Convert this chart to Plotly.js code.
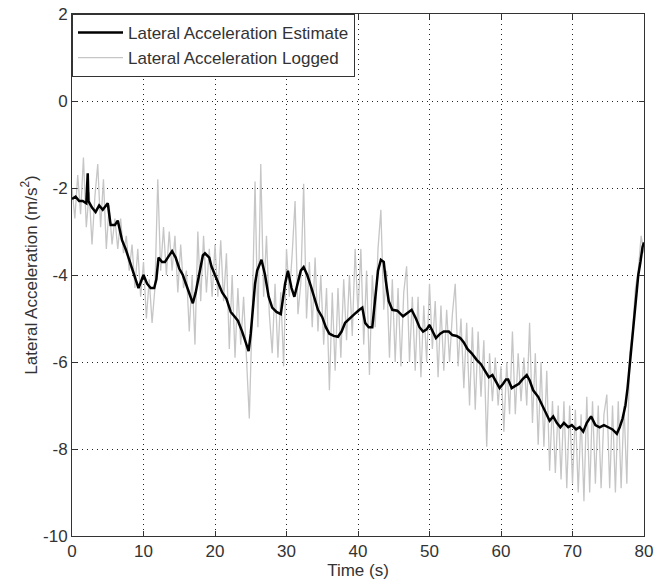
<!DOCTYPE html>
<html>
<head>
<meta charset="utf-8">
<script src="https://cdn.plot.ly/plotly-3.0.1.min.js"></script>
<style>html,body{margin:0;padding:0;background:#fff;}#chart{width:656px;height:584px;}</style>
</head>
<body>
<div id="chart"></div>
<script>
// Estimate series (time in s, lateral acceleration in m/s^2)
var estTime = [0,0.5,1,1.5,2.0,2.2,2.3,2.8,3.3,3.8,4.3,5.0,5.4,6.0,6.4,7.0,7.5,8.0,8.6,9.0,9.3,10.0,10.5,11.0,11.5,11.8,12.1,12.6,13.0,13.6,14.0,14.5,15.0,15.5,16.0,16.6,16.9,17.3,17.8,18.3,18.6,19.2,19.5,20.0,20.5,21.0,21.6,22.2,22.7,23.2,23.8,24.3,24.7,25.0,25.3,25.6,25.9,26.5,27.0,27.5,28.0,28.6,29.2,29.5,29.8,30.2,30.7,31.1,31.5,32.0,32.4,32.9,33.4,33.9,34.4,35.0,35.5,36.0,36.6,37.2,37.7,38.2,38.8,39.5,40.2,40.6,41.0,41.5,42.0,42.4,42.8,43.2,43.6,43.9,44.3,44.8,45.5,46.3,47.0,47.5,48.1,48.6,49.1,49.6,50.0,50.5,50.9,51.5,52.0,52.7,53.2,53.8,54.3,54.8,55.3,55.9,56.6,57.2,57.8,58.3,58.8,59.3,59.8,60.3,60.7,61.0,61.5,62.0,62.5,63.0,63.6,64.0,64.5,65.2,65.8,66.3,66.8,67.3,67.8,68.3,68.8,69.4,69.9,70.5,71.0,71.5,72.0,72.6,73.2,73.8,74.4,75.0,75.6,76.2,76.6,77.0,77.4,77.7,78.0,78.3,78.6,78.9,79.2,79.5,79.8,80.0];
var estValue = [-2.25,-2.2,-2.3,-2.3,-2.35,-1.66,-2.3,-2.45,-2.55,-2.4,-2.5,-2.35,-2.85,-2.85,-2.75,-3.2,-3.4,-3.65,-3.95,-4.2,-4.3,-4.0,-4.2,-4.3,-4.3,-4.1,-3.6,-3.7,-3.7,-3.55,-3.45,-3.6,-3.85,-4.0,-4.25,-4.55,-4.65,-4.4,-4.0,-3.55,-3.5,-3.6,-3.8,-4.0,-4.2,-4.4,-4.55,-4.85,-4.95,-5.05,-5.3,-5.55,-5.75,-5.35,-4.8,-4.2,-3.9,-3.65,-4.0,-4.5,-4.75,-4.85,-4.9,-4.5,-4.2,-3.9,-4.3,-4.5,-4.2,-3.9,-3.82,-4.0,-4.25,-4.5,-4.8,-4.97,-5.2,-5.35,-5.4,-5.42,-5.3,-5.1,-5.0,-4.9,-4.8,-4.75,-5.1,-5.2,-5.2,-4.6,-3.9,-3.65,-3.7,-4.15,-4.6,-4.8,-4.82,-4.95,-4.85,-4.8,-5.0,-5.2,-5.3,-5.25,-5.15,-5.3,-5.45,-5.35,-5.3,-5.3,-5.38,-5.4,-5.45,-5.55,-5.7,-5.8,-5.95,-6.05,-6.2,-6.35,-6.3,-6.45,-6.6,-6.5,-6.4,-6.4,-6.6,-6.55,-6.5,-6.4,-6.3,-6.42,-6.65,-6.8,-7.0,-7.2,-7.35,-7.25,-7.4,-7.5,-7.4,-7.5,-7.45,-7.55,-7.5,-7.6,-7.4,-7.25,-7.45,-7.5,-7.45,-7.5,-7.55,-7.65,-7.5,-7.3,-7.0,-6.6,-6.1,-5.6,-5.0,-4.5,-4.0,-3.7,-3.35,-3.25];

// Logged series, sampled every 0.4 s from t = 0 to 80 s
var logStart = 0, logStep = 0.4;
var logValue = [
 -2.0,-2.7,-1.7,-2.6,-1.3,-2.9,-2.1,-3.3,-2.2,-1.45,
 -2.9,-1.8,-3.4,-2.4,-3.3,-2.7,-3.4,-2.7,-3.5,-3.1,
 -3.9,-3.3,-4.3,-3.4,-4.5,-3.7,-5.0,-4.1,-5.1,-4.3,
 -1.8,-3.9,-2.9,-4.0,-3.0,-3.9,-3.1,-4.4,-3.3,-4.3,
 -3.9,-5.3,-4.0,-5.6,-3.0,-4.6,-3.1,-4.4,-3.4,-4.5,
 -3.3,-4.5,-3.2,-4.6,-3.5,-5.7,-4.0,-5.9,-4.3,-5.6,
 -4.5,-6.0,-7.3,-4.9,-1.85,-5.2,-1.45,-4.5,-3.1,-4.9,
 -5.8,-4.2,-5.9,-4.4,-6.1,-3.4,-4.5,-3.5,-2.3,-4.9,
 -4.2,-1.9,-5.0,-3.7,-5.2,-3.6,-5.3,-4.0,-5.6,-4.3,
 -6.65,-4.4,-6.2,-4.3,-5.9,-4.1,-5.5,-4.0,-5.4,-3.4,
 -4.9,-3.4,-5.6,-3.9,-6.3,-4.0,-5.2,-3.4,-2.5,-4.8,
 -3.9,-5.9,-4.1,-6.0,-4.3,-6.1,-4.4,-3.8,-6.0,-4.5,
 -6.2,-4.5,-6.35,-4.7,-6.0,-4.2,-5.7,-4.6,-6.35,-4.7,
 -6.2,-4.8,-6.0,-4.9,-4.2,-6.1,-5.0,-6.6,-5.1,-7.0,
 -5.2,-7.1,-5.3,-6.8,-5.5,-7.95,-5.8,-6.9,-5.9,-7.0,
 -6.1,-7.6,-6.0,-7.2,-5.3,-7.2,-5.8,-6.9,-5.9,-7.0,
 -5.1,-7.4,-5.8,-7.9,-6.0,-7.95,-6.2,-8.5,-6.9,-8.55,
 -7.0,-8.7,-6.9,-8.9,-7.0,-8.8,-7.1,-9.0,-7.2,-9.2,
 -6.8,-9.0,-6.9,-8.8,-7.0,-8.9,-7.2,-6.75,-8.9,-7.0,
 -9.0,-6.9,-8.9,-7.0,-8.8,-5.8,-5.3,-4.3,-3.9,-3.1,
 -3.5
];
var logTime = logValue.map(function(v, i){ return +(logStart + i*logStep).toFixed(2); });

var xTicks = [0,10,20,30,40,50,60,70,80];
var yTicks = [-10,-8,-6,-4,-2,0,2];

var FONT = 'Liberation Sans, Arial, Helvetica, sans-serif';
var TXT = '#333333';

var traces = [
  {x: logTime, y: logValue, type: 'scatter', mode: 'lines', name: 'Lateral Acceleration Logged',
   line: {color: '#c6c6c6', width: 1.3}},
  {x: estTime, y: estValue, type: 'scatter', mode: 'lines', name: 'Lateral Acceleration Estimate',
   line: {color: '#000000', width: 2.5}}
];

var axisCommon = {
  showline: true, linecolor: '#333333', linewidth: 1, mirror: 'ticks',
  ticks: 'inside', ticklen: 5, tickcolor: '#333333', tickwidth: 1,
  showgrid: true, gridcolor: '#222222', griddash: '1px,4px', gridwidth: 1,
  zeroline: false, tickfont: {family: FONT, size: 17, color: TXT}
};

var layout = {
  width: 656, height: 584,
  margin: {l: 72, r: 12, t: 14, b: 48, pad: 0},
  paper_bgcolor: '#ffffff', plot_bgcolor: '#ffffff',
  font: {family: FONT, size: 17, color: TXT},
  xaxis: Object.assign({}, axisCommon, {
    range: [0, 80], tickvals: xTicks, ticktext: xTicks.map(String),
    title: {text: 'Time (s)', font: {family: FONT, size: 17, color: TXT}, standoff: 2}
  }),
  yaxis: Object.assign({}, axisCommon, {
    range: [-10, 2], tickvals: yTicks, ticktext: yTicks.map(String),
    title: {text: 'Lateral Acceleration (m/s<sup>2</sup>)', font: {family: FONT, size: 17, color: TXT}, standoff: 1}
  }),
  showlegend: true,
  legend: {
    x: 0, y: 1, xanchor: 'left', yanchor: 'top',
    bgcolor: '#ffffff', bordercolor: '#333333', borderwidth: 1,
    font: {family: FONT, size: 17, color: TXT},
    traceorder: 'reversed', itemwidth: 45, tracegroupgap: 0
  }
};

Plotly.newPlot('chart', traces, layout, {displayModeBar: false, staticPlot: true});
</script>
</body>
</html>
